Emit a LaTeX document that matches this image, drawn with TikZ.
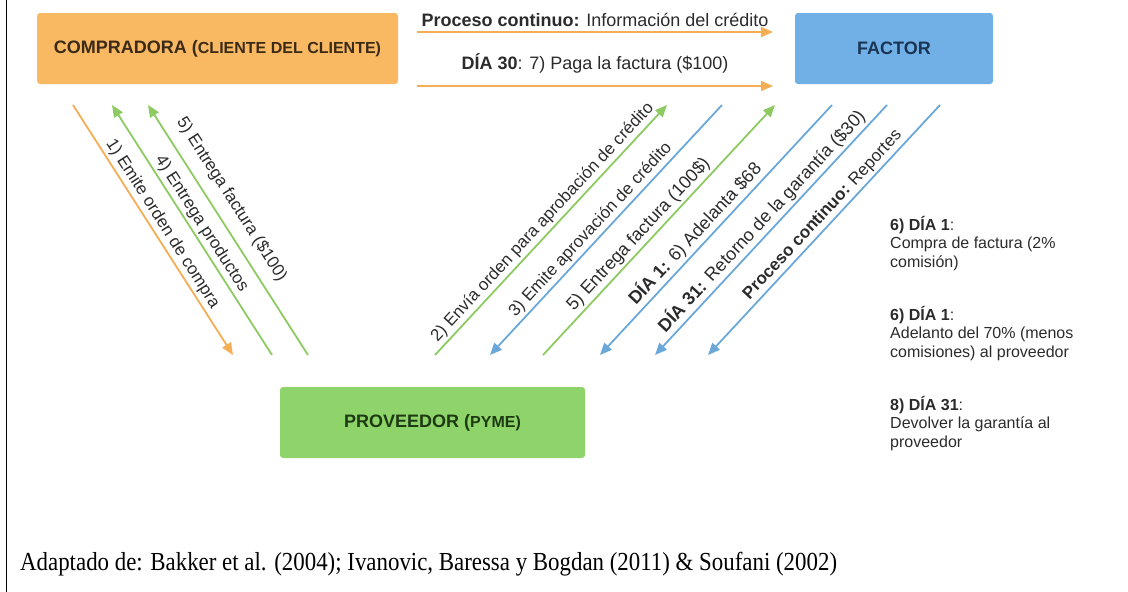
\documentclass[tikz,border=0pt]{standalone}
\usepackage{fontspec}
\setmainfont{Liberation Sans}
\newfontfamily\srcfont{Liberation Serif}
\usetikzlibrary{arrows.meta}
\definecolor{cOrange}{HTML}{F9B862}
\definecolor{cBlue}{HTML}{70B0E6}
\definecolor{cGreen}{HTML}{8ED46B}
\definecolor{aOrange}{HTML}{F6AE55}
\definecolor{aGreen}{HTML}{8DCB62}
\definecolor{aBlue}{HTML}{6BA8D9}
\definecolor{tOrange}{HTML}{3A2A17}
\definecolor{tBlue}{HTML}{1B3453}
\definecolor{tGreen}{HTML}{1D3A12}
\definecolor{tGray}{HTML}{2B2B2B}

\begin{document}
\begin{tikzpicture}[x=1pt,y=-1pt,
  box/.style={rounded corners=3pt,minimum height=71pt,inner sep=0pt,font=\bfseries},
  lab/.style={font=\fontsize{17}{20}\selectfont,text=tGray,inner sep=2.5pt},
  daylab/.style={lab,font=\fontsize{18}{21}\selectfont},
  toplab/.style={lab,font=\fontsize{18}{21}\selectfont},
  note/.style={font=\fontsize{16}{18.5}\selectfont,text=tGray,align=left,inner sep=0pt,anchor=north west},
  arr/.style={line width=1.8pt,>={Triangle[length=12pt,width=10pt]}},
  oarr/.style={arr,aOrange},
  garr/.style={arr,aGreen},
  barr/.style={arr,aBlue}
]
\useasboundingbox (0,0) rectangle (1128,592);
\draw[line width=1pt] (6.5,0) -- (6.5,592);

\node[box,fill=cOrange,minimum width=361pt,text=tOrange] (comp) at (217.5,48.5) {{\fontsize{18}{21}\selectfont COMPRADORA (}{\fontsize{16}{19}\selectfont CLIENTE DEL CLIENTE)}};
\node[box,fill=cBlue,minimum width=198pt,text=tBlue] (factor) at (894,48.5) {\fontsize{18}{21}\selectfont FACTOR};
\node[box,fill=cGreen,minimum width=305pt,text=tGreen] (prov) at (432.5,422.5) {{\fontsize{18}{21}\selectfont PROVEEDOR (}{\fontsize{16}{19}\selectfont PYME)}};

% end points of the arrows
\coordinate (ha1) at (417,32);
\coordinate (hb1) at (773,32);
\coordinate (ha2) at (417,86);
\coordinate (hb2) at (773,86);
\foreach \x/\n in {73/1,112/2,148/3}{
  \coordinate (c\n) at (\x,105);
  \coordinate (p\n) at (\x+160,355);
}
\foreach \x/\n in {435/1,490/2,543/3,600/4,655/5,708/6}{
  \coordinate (q\n) at (\x,355);
  \coordinate (f\n) at (\x+232,105);
}

\draw[oarr,->] (ha1) -- node[toplab,above=2pt] {\textbf{Proceso continuo:} Información del crédito} (hb1);
\draw[oarr,->] (ha2) -- node[toplab,above=9pt] {\textbf{DÍA 30}: 7) Paga la factura (\$100)} (hb2);

\draw[oarr,->] (c1) -- node[lab,sloped,above] {1) Emite orden de compra} (p1);
\draw[garr,<-] (c2) -- node[lab,sloped,above] {4) Entrega productos} (p2);
\draw[garr,<-] (c3) -- node[lab,sloped,above=8pt,pos=0.42] {5) Entrega factura (\$100)} (p3);

\draw[garr,->] (q1) -- node[lab,sloped,above] {2) Envía orden para aprobación de crédito} (f1);
\draw[barr,<-] (q2) -- node[lab,sloped,above,pos=0.47] {3) Emite aprovación de crédito} (f2);
\draw[garr,->] (q3) -- node[daylab,sloped,above,pos=0.45] {5) Entrega factura (100\$)} (f3);
\draw[barr,<-] (q4) -- node[daylab,sloped,above,pos=0.45] {\textbf{DÍA 1:} 6) Adelanta \$68} (f4);
\draw[barr,<-] (q5) -- node[daylab,sloped,above] {\textbf{DÍA 31:} Retorno de la garantía (\$30)} (f5);
\draw[barr,<-] (q6) -- node[lab,sloped,above,pos=0.53] {\textbf{Proceso continuo:} Reportes} (f6);

\node[note] (n1) at (890,216) {\textbf{6) DÍA 1}:\\Compra de factura (2\%\\comisión)};
\node[note] (n2) at (890,306) {\textbf{6) DÍA 1}:\\Adelanto del 70\% (menos\\comisiones) al proveedor};
\node[note] (n3) at (890,396) {\textbf{8) DÍA 31}:\\Devolver la garantía al\\proveedor};

\node[anchor=base west,inner sep=0pt,xscale=0.88,font=\srcfont\fontsize{26}{30}\selectfont] (src) at (20,570) {Adaptado de: Bakker et al. (2004); Ivanovic, Baressa y Bogdan (2011) \& Soufani (2002)};
\end{tikzpicture}
\end{document}
